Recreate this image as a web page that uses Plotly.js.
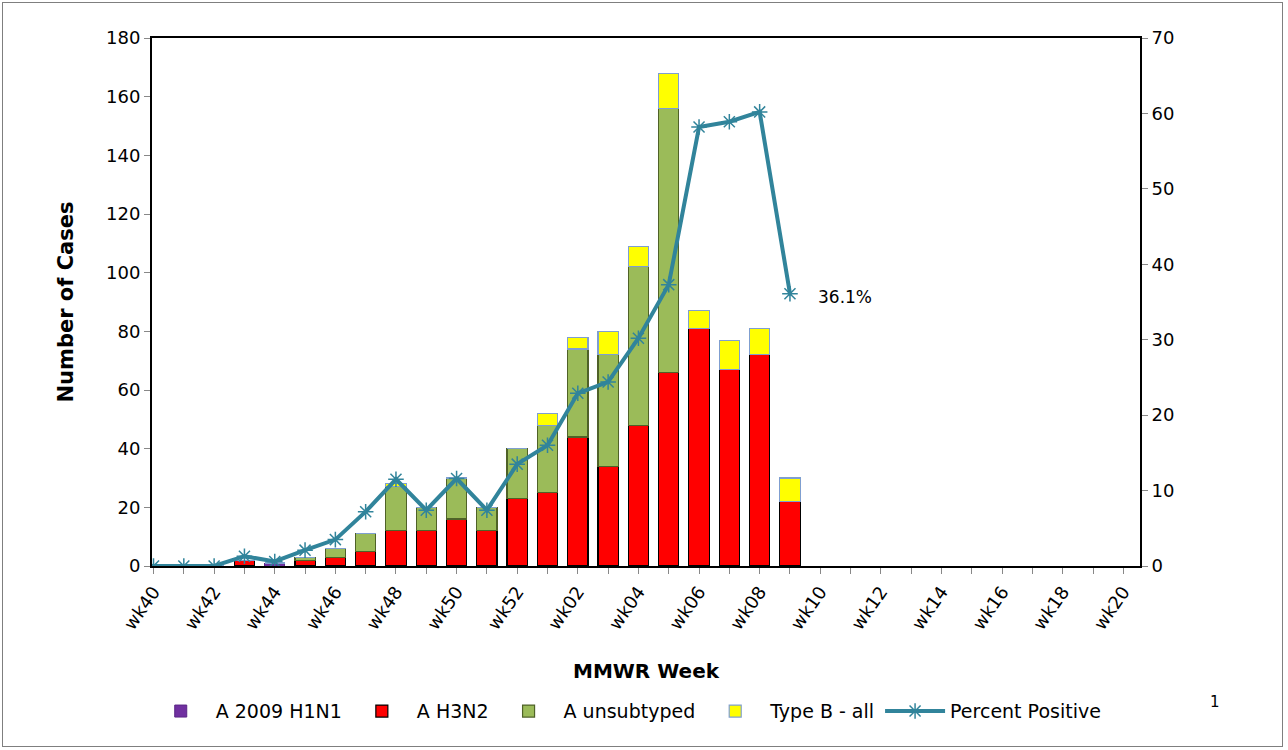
<!DOCTYPE html>
<html>
<head>
<meta charset="utf-8">
<script src="https://cdn.plot.ly/plotly-3.0.1.min.js"></script>
<style>
  html, body { margin: 0; padding: 0; background: #fff; }
  #frame { position: absolute; left: 2px; top: 2px; width: 1281px; height: 745px; border: 1px solid #7f7f7f; box-sizing: border-box; }
  #chart { position: absolute; left: 0; top: 0; width: 1288px; height: 750px; }
</style>
</head>
<body>
<div id="frame"></div>
<div id="chart"></div>
<script>
const weeks = ["wk40","wk41","wk42","wk43","wk44","wk45","wk46","wk47","wk48","wk49","wk50","wk51","wk52",
  "wk01","wk02","wk03","wk04","wk05","wk06","wk07","wk08","wk09","wk10","wk11","wk12","wk13","wk14",
  "wk15","wk16","wk17","wk18","wk19","wk20"];
// weeks after wk09 not yet reported (null)
const h1n1   = [0,0,0,0,1,0,0,0,0,0,0,0,0, 0,0,0,0,0,0,0,0,0];
const h3n2   = [0,0,0,2,0,2,3,5,12,12,16,12,23, 25,44,34,48,66,81,67,72,22];
const unsub  = [0,0,0,0,0,1,3,6,15,8,14,8,17, 23,30,38,54,90,0,0,0,0];
const typeB  = [0,0,0,0,0,0,0,0,1,0,0,0,0, 4,4,8,7,12,6,10,9,8];
const pctPos = [0,0,0,1.3,0.6,2.1,3.5,7.2,11.5,7.4,11.6,7.4,13.5, 16.0,22.9,24.4,30.2,37.3,58.2,58.9,60.2,36.1];
const lastLabel = "36.1%";
const tickText = weeks.map((w, i) => (i % 2 === 0 ? w : ""));

const FONT = "DejaVu Sans, Verdana, sans-serif";
const lineColor = "#31849b";
const reported = weeks.slice(0, h3n2.length);

const traces = [
  { type: "bar", name: "A 2009 H1N1", x: reported, y: h1n1,
    marker: { color: "#7030a0", line: { color: "#5a2586", width: 1 } } },
  { type: "bar", name: "A H3N2", x: reported, y: h3n2,
    marker: { color: "#ff0000", line: { color: "#000000", width: 1.2 } } },
  { type: "bar", name: "A unsubtyped", x: reported, y: unsub,
    marker: { color: "#9bbb59", line: { color: "#4f6228", width: 1.2 } } },
  { type: "bar", name: "Type B - all", x: reported, y: typeB,
    marker: { color: "#ffff00", line: { color: "#7f9fd0", width: 1.2 } } },
  { type: "scatter", mode: "lines+markers", name: "Percent Positive", x: weeks.slice(0, pctPos.length), y: pctPos,
    yaxis: "y2", line: { color: lineColor, width: 4 },
    marker: { symbol: "asterisk-open", size: 13, color: lineColor, line: { color: lineColor, width: 1.5 } } }
];

const layout = {
  width: 1288, height: 750,
  margin: { l: 152, r: 148, t: 38, b: 184 },
  paper_bgcolor: "rgba(0,0,0,0)", plot_bgcolor: "#fff",
  barmode: "stack", bargap: 0.33,
  font: { family: FONT, size: 16, color: "#000" },
  showlegend: true,
  legend: { orientation: "h", x: 0.48, xanchor: "center", y: -0.275, yanchor: "middle",
    font: { family: FONT, size: 19, color: "#000" }, traceorder: "normal", itemwidth: 60 },
  xaxis: {
    type: "category", categoryorder: "array", categoryarray: weeks,
    range: [-0.05, 32.55],
    tickvals: weeks, ticktext: tickText, tickangle: -55,
    ticks: "outside", ticklen: 6, tickcolor: "#888", tickwidth: 1,
    showline: true, linecolor: "#000", linewidth: 2, mirror: true,
    showgrid: false, zeroline: false,
    tickfont: { family: FONT, size: 18, color: "#000" },
    title: { text: "<b>MMWR Week</b>", font: { family: FONT, size: 20, color: "#000" }, standoff: 32 }
  },
  yaxis: {
    range: [0, 180], dtick: 20, ticks: "outside", ticklen: 6, tickcolor: "#888",
    showline: true, linecolor: "#000", linewidth: 2, showgrid: false, zeroline: false,
    tickfont: { family: FONT, size: 18, color: "#000" },
    title: { text: "<b>Number of Cases</b>", font: { family: FONT, size: 21, color: "#000" }, standoff: 27 }
  },
  yaxis2: {
    overlaying: "y", side: "right", range: [0, 70], dtick: 10,
    ticks: "outside", ticklen: 6, tickcolor: "#888",
    showline: true, linecolor: "#000", linewidth: 2, showgrid: false, zeroline: false,
    tickfont: { family: FONT, size: 18, color: "#000" }
  },
  annotations: [
    { x: weeks[pctPos.length - 1], y: pctPos[pctPos.length - 1], xref: "x", yref: "y2",
      text: lastLabel, showarrow: false, xanchor: "left", yanchor: "middle", xshift: 26, yshift: -3,
      font: { family: FONT, size: 17, color: "#000" } },
    { x: 0, y: 0, xref: "paper", yref: "paper", text: "1", showarrow: false,
      xanchor: "left", yanchor: "middle",
      font: { family: FONT, size: 15, color: "#000" } }
  ]
};
// superscript position in paper coords
layout.annotations[1].x = (1208 - 152) / (1288 - 152 - 148);
layout.annotations[1].y = (566 - 702) / (750 - 38 - 184);

Plotly.newPlot("chart", traces, layout, { displayModeBar: false, staticPlot: true });
</script>
</body>
</html>
